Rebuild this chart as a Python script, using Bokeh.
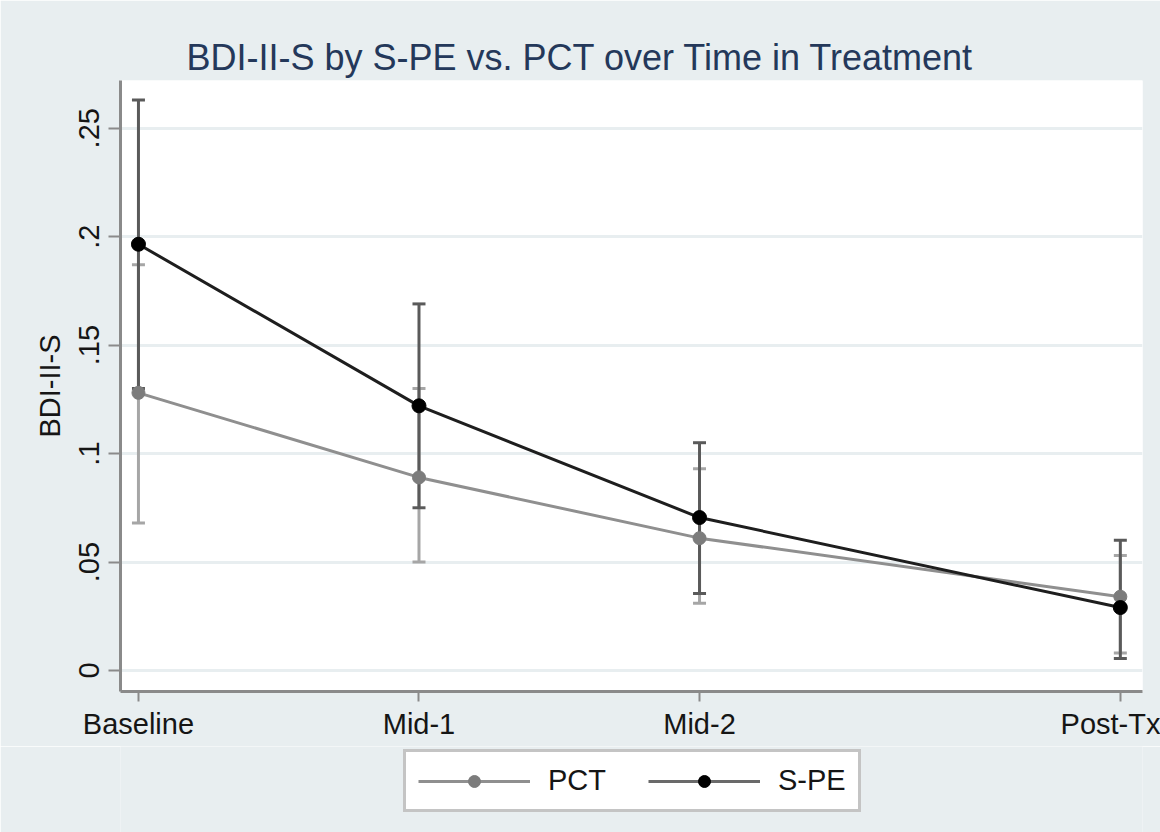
from bokeh.plotting import figure
from bokeh.layouts import column
from bokeh.models import Range1d, FixedTicker, Legend, LegendItem, Whisker, ColumnDataSource, Title, TeeHead
from bokeh.embed import file_html
from bokeh.resources import INLINE

# ---- data ----
time_labels = ["Baseline", "Mid-1", "Mid-2", "Post-Tx"]
time_values = [0, 1, 2, 3.5]
pct_mean = [0.128, 0.089, 0.061, 0.034]
pct_lower = [0.068, 0.050, 0.031, 0.008]
pct_upper = [0.187, 0.130, 0.093, 0.053]
spe_mean = [0.1965, 0.122, 0.0705, 0.029]
spe_lower = [0.130, 0.075, 0.0355, 0.0055]
spe_upper = [0.263, 0.169, 0.105, 0.060]
y_ticks = [0, 0.05, 0.1, 0.15, 0.2, 0.25]
y_tick_labels = ["0", ".05", ".1", ".15", ".2", ".25"]
series_names = ["PCT", "S-PE"]

FONT = "Liberation Sans"
BG = "#e8eef0"
PCT_LINE, PCT_MARK, PCT_CI = "#8f8f8f", "#7c7c7c", "#a6a6a6"
SPE_LINE, SPE_MARK, SPE_CI = "#1e1e1e", "#000000", "#5a5a5a"

p = figure(frame_width=1022, frame_height=611, output_backend="svg", toolbar_location=None,
           x_range=Range1d(-0.064, 3.579), y_range=Range1d(-0.0097, 0.272),
           min_border_left=120, min_border_right=18, min_border_top=80, min_border_bottom=55,
           border_fill_color=BG, background_fill_color="white")
p.outline_line_color = None

t = Title(text="BDI-II-S by S-PE vs. PCT over Time in Treatment", align="left", offset=66,
          text_font=FONT, text_font_size="36px", text_font_style="normal",
          text_color="#24385a", standoff=5)
p.add_layout(t, "above")

pct_src = ColumnDataSource(dict(x=time_values, m=pct_mean, lo=pct_lower, hi=pct_upper))
spe_src = ColumnDataSource(dict(x=time_values, m=spe_mean, lo=spe_lower, hi=spe_upper))

# error bars
for src, col in ((pct_src, PCT_CI), (spe_src, SPE_CI)):
    w = Whisker(base="x", lower="lo", upper="hi", source=src, line_color=col, line_width=3,
                upper_head=TeeHead(size=13, line_color=col, line_width=3),
                lower_head=TeeHead(size=13, line_color=col, line_width=3))
    p.add_layout(w)

p.line("x", "m", source=pct_src, line_color=PCT_LINE, line_width=3)
p.line("x", "m", source=spe_src, line_color=SPE_LINE, line_width=3)
p.scatter("x", "m", source=pct_src, size=13, fill_color=PCT_MARK, line_color=PCT_MARK)
p.scatter("x", "m", source=spe_src, size=14, fill_color=SPE_MARK, line_color=SPE_MARK)

# axes
p.xaxis.ticker = FixedTicker(ticks=time_values)
p.xaxis.major_label_overrides = {v: l for v, l in zip(time_values, time_labels)}
p.yaxis.ticker = FixedTicker(ticks=y_ticks)
p.yaxis.major_label_overrides = {v: l for v, l in zip(y_ticks, y_tick_labels)}
p.yaxis.major_label_orientation = "vertical"
p.yaxis.axis_label = "BDI-II-S"

for ax in (p.xaxis[0], p.yaxis[0]):
    ax.axis_line_color = "#8a8a8a"
    ax.axis_line_width = 3
    ax.major_tick_line_color = "#8a8a8a"
    ax.major_tick_line_width = 2
    ax.major_tick_in = 0
    ax.minor_tick_line_color = None
    ax.major_label_text_font = FONT
    ax.major_label_text_font_size = "29px"
    ax.major_label_text_color = "#151515"
    ax.axis_label_text_font = FONT
    ax.axis_label_text_font_size = "29px"
    ax.axis_label_text_font_style = "normal"
    ax.axis_label_text_color = "#151515"
p.xaxis.major_tick_out = 10
p.xaxis.major_label_standoff = 6
p.yaxis.major_tick_out = 12
p.yaxis.major_label_standoff = 9
p.yaxis.axis_label_standoff = 11

p.xgrid.grid_line_color = None
p.ygrid.grid_line_color = "#e8eef0"
p.ygrid.grid_line_width = 3

# legend strip below the plot (same horizontal frame as the main plot)
leg_fig = figure(frame_width=1022, frame_height=832 - 80 - 611 - 55, output_backend="svg",
                 toolbar_location=None, x_range=Range1d(0, 1), y_range=Range1d(0, 1),
                 x_axis_type=None, y_axis_type=None,
                 min_border_left=120, min_border_right=18, min_border_top=0, min_border_bottom=0,
                 border_fill_color=BG, background_fill_color=BG)
leg_fig.outline_line_color = None
leg_fig.xgrid.visible = False
leg_fig.ygrid.visible = False
off = [-5, -4]
l1 = leg_fig.line(off, off, line_color=PCT_LINE, line_width=3)
s1 = leg_fig.scatter(off, off, size=13, fill_color=PCT_MARK, line_color=PCT_MARK)
l2 = leg_fig.line(off, off, line_color="#6a6a6a", line_width=3)
s2 = leg_fig.scatter(off, off, size=14, fill_color=SPE_MARK, line_color=SPE_MARK)

legend = Legend(items=[LegendItem(label=series_names[0], renderers=[l1, s1]),
                       LegendItem(label=series_names[1], renderers=[l2, s2])],
                orientation="horizontal", location=(283, 20),
                label_text_font=FONT, label_text_font_size="29px", label_text_color="#151515",
                glyph_width=112, glyph_height=30, label_standoff=18, spacing=42,
                padding=12, margin=0, border_line_color="#8a8a8a", border_line_width=3,
                background_fill_color="white", background_fill_alpha=1.0)
leg_fig.add_layout(legend, "center")

layout = column(p, leg_fig, spacing=0)
open("out.html", "w").write(file_html(layout, INLINE))
